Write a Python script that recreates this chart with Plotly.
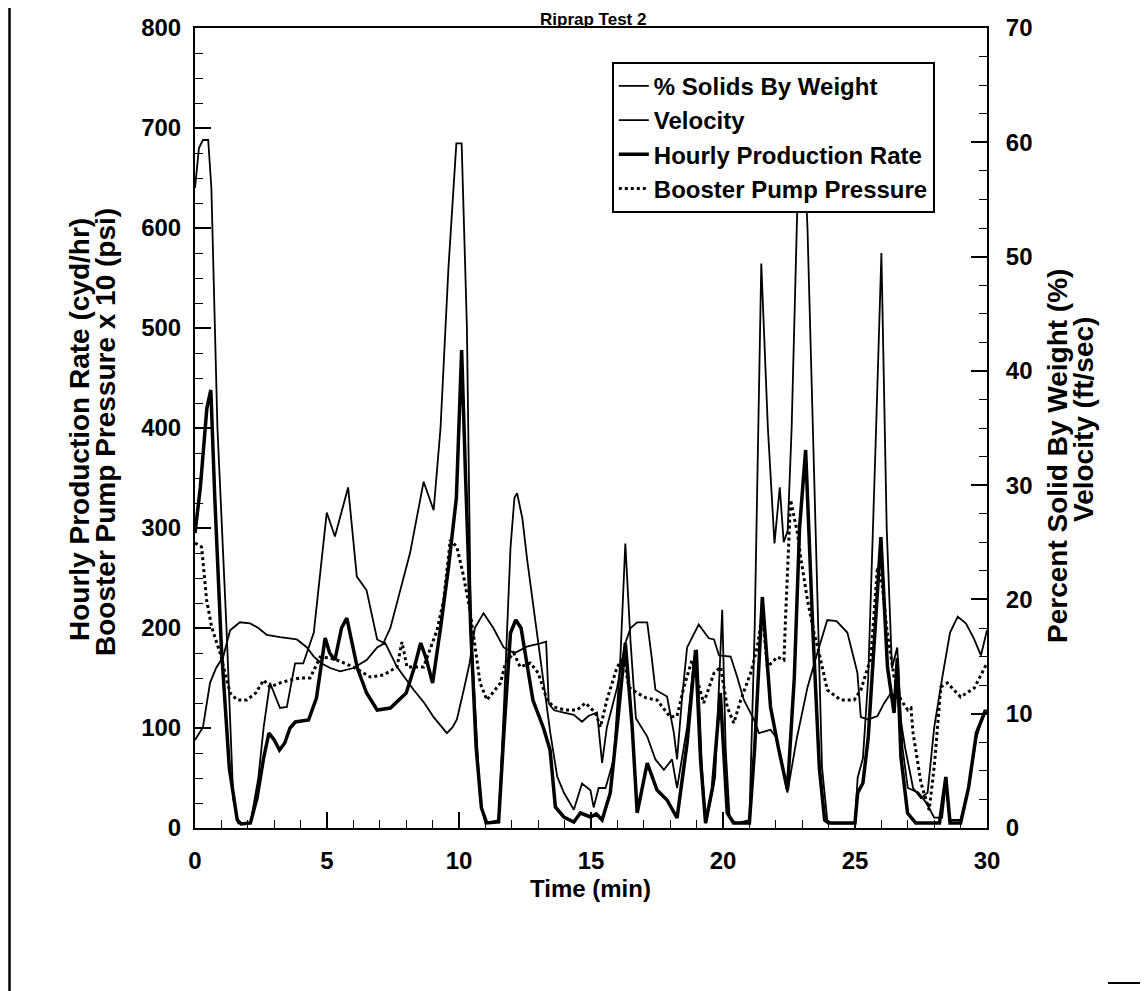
import plotly.graph_objects as go

# ---------------- data ----------------
t_solids = [0.0, 0.15, 0.3, 0.5, 0.62, 0.72, 0.85, 1.2, 1.45, 1.64, 2.1, 2.4, 2.6, 2.84, 3.0, 3.22, 3.48,
            3.79, 4.1, 4.5, 4.99, 5.3, 5.8, 6.13, 6.5, 6.9, 7.14, 7.4, 7.65, 8.15, 8.66, 9.04, 9.3, 9.6,
            9.9, 10.1, 10.3, 10.45, 10.8, 11.0, 11.5, 11.7, 11.95, 12.1, 12.2, 12.4, 12.58, 12.96, 13.21,
            13.46, 13.72, 13.97, 14.35, 14.66, 14.98, 15.1, 15.29, 15.55, 15.86, 16.11, 16.3, 16.5, 16.7,
            17.13, 17.44, 17.76, 18.07, 18.26, 18.64, 18.9, 19.02, 19.2, 19.35, 19.7, 19.97, 20.1, 20.25,
            20.5, 21.0, 21.2, 21.45, 21.7, 21.95, 22.15, 22.3, 22.45, 22.6, 22.95, 23.2, 23.5, 23.75,
            23.95, 24.1, 25.0, 25.1, 25.3, 25.5, 25.8, 26.0, 26.2, 26.4, 26.6, 26.8, 27.0, 27.4, 27.7,
            28.0, 28.3, 28.44, 28.6, 29.0, 29.3, 29.6, 29.9, 30.0]
solids_pct = [56.0, 59.5, 60.2, 60.2, 56.0, 47.3, 35.0, 17.1, 2.5, 0.4, 0.4, 4.4, 8.8, 12.7, 11.8, 10.5, 10.6,
              14.4, 14.4, 17.1, 27.6, 25.5, 29.8, 22.0, 20.8, 16.5, 16.2, 17.5, 19.7, 24.1, 30.3, 27.8, 35.0, 49.0,
              59.9, 59.9, 43.8, 17.5, 2.5, 0.4, 0.7, 10.5, 24.5, 28.9, 29.3, 27.1, 23.5, 17.1, 12.7,
              8.3, 4.5, 3.1, 1.6, 3.9, 3.3, 1.8, 3.5, 3.5, 6.0, 14.7, 24.9, 16.2, 9.6,
              8.0, 6.0, 5.1, 6.0, 3.5, 8.8, 14.7, 15.6, 5.3, 0.4, 4.4, 19.1, 7.0, 0.9,
              0.4, 0.7, 17.5, 49.4, 35.0, 24.9, 29.8, 25.0, 26.0, 35.0, 66.5, 52.5, 26.3, 5.3,
              0.7, 0.4, 0.4, 4.4, 6.1, 13.1, 35.0, 50.3, 26.3, 14.0, 15.8, 7.0, 3.5, 3.1, 2.2,
              0.9, 0.9, 3.9, 0.7, 0.7, 3.5, 7.9, 10.3, 10.3]

t_velocity = [0.0, 0.3, 0.57, 0.8, 1.07, 1.33, 1.7, 2.09, 2.4, 2.72, 3.22, 3.86, 4.24, 4.5, 4.8, 5.12, 5.5,
              6.0, 6.5, 6.9, 7.2, 7.65, 8.28, 8.7, 9.04, 9.54, 9.75, 9.92, 10.2, 10.4, 10.6, 10.93, 11.3,
              11.69, 12.1, 12.6, 13.0, 13.3, 13.4, 13.6, 13.97, 14.35, 14.66, 14.9, 15.23, 15.42, 15.6,
              15.99, 16.3, 16.5, 16.75, 17.13, 17.3, 17.44, 17.88, 18.14, 18.26, 18.45, 18.64, 19.08,
              19.46, 19.66, 19.85, 20.29, 20.54, 20.79, 21.17, 21.36, 21.8, 21.99, 22.2, 22.44, 22.8,
              23.2, 23.57, 23.95, 24.3, 24.71, 25.09, 25.22, 25.5, 25.85, 26.1, 26.36, 26.6, 26.9, 27.2,
              27.5, 27.75, 28.0, 28.3, 28.6, 28.89, 29.2, 29.5, 29.77, 30.0]
velocity_fps = [7.7, 8.8, 12.7, 14.0, 15.0, 17.3, 18.0, 17.9, 17.5, 16.9, 16.7, 16.5, 15.8, 15.0, 14.4, 14.0, 13.7,
                14.0, 14.7, 15.8, 16.2, 14.1, 12.1, 10.9, 9.7, 8.3, 8.8, 9.5, 12.3, 14.4, 17.5, 18.8, 17.5,
                15.8, 15.3, 15.9, 16.1, 16.3, 10.9, 10.3, 10.1, 9.9, 9.3, 9.8, 10.1, 5.7, 8.8,
                12.3, 16.2, 17.5, 18.0, 18.0, 14.9, 12.1, 11.5, 8.3, 6.0, 11.4, 15.8, 17.8,
                16.6, 16.5, 15.1, 15.0, 13.2, 11.2, 9.5, 8.3, 8.6, 8.0, 6.1, 3.1, 7.9,
                12.3, 15.3, 18.2, 18.1, 17.1, 13.6, 9.7, 9.5, 9.8, 10.9, 11.8, 11.4, 7.0, 3.5,
                2.6, 3.1, 8.8, 13.1, 17.1, 18.5, 17.9, 16.6, 15.1, 17.3]

t_rate = [0.0, 0.2, 0.45, 0.6, 0.75, 1.0, 1.3, 1.6, 1.75, 2.1, 2.35, 2.6, 2.8, 3.0, 3.2, 3.4, 3.6, 3.8, 4.3,
          4.6, 4.93, 5.1, 5.3, 5.55, 5.75, 5.95, 6.15, 6.5, 6.9, 7.4, 7.7, 8.0, 8.3, 8.55, 8.75, 9.0, 9.3,
          9.6, 9.9, 10.1, 10.25, 10.45, 10.65, 10.85, 11.05, 11.5, 11.7, 11.95, 12.15, 12.35, 12.6, 12.8,
          13.2, 13.45, 13.65, 13.97, 14.35, 14.6, 14.98, 15.2, 15.42, 15.73, 15.99, 16.3, 16.56, 16.75,
          17.13, 17.5, 17.88, 18.26, 18.64, 18.96, 19.15, 19.34, 19.6, 19.9, 20.16, 20.4, 21.0, 21.2,
          21.49, 21.8, 22.1, 22.44, 22.7, 22.9, 23.13, 23.4, 23.65, 23.85, 24.0, 25.0, 25.1, 25.3, 25.5,
          25.75, 25.98, 26.23, 26.48, 26.6, 26.74, 26.99, 27.3, 28.2, 28.44, 28.6, 29.0, 29.3, 29.6,
          29.9, 30.0]
rate_cydhr = [295, 340, 420, 438, 330, 180, 60, 8, 4, 5, 30, 70, 95, 88, 78, 85, 100, 106, 108,
              130, 190, 175, 168, 200, 210, 185, 160, 135, 118, 120, 128, 135, 160, 185, 170, 145, 200,
              260, 330, 478, 350, 195, 80, 20, 5, 6, 95, 195, 208, 200, 160, 128,
              100, 78, 21, 11, 6, 15, 11, 14, 8, 35, 101, 185, 101, 15,
              65, 38, 28, 10, 85, 178, 68, 5, 40, 135, 15, 5, 5, 80,
              231, 121, 80, 38, 150, 300, 378, 200, 60, 8, 5, 5, 35, 45, 90,
              200, 291, 161, 115, 170, 71, 15, 5, 5, 51, 5, 5, 40, 95,
              115, 115]

t_pressure = [0.0, 0.25, 0.44, 0.63, 0.95, 1.33, 1.6, 1.96, 2.3, 2.6, 2.84, 3.22, 3.6, 4.0, 4.36, 4.74, 5.1,
              5.37, 6.0, 6.64, 7.14, 7.65, 7.84, 8.03, 8.66, 9.17, 9.42, 9.67, 9.92, 10.18, 10.43, 10.8,
              11.06, 11.57, 11.76, 12.07, 12.32, 12.7, 13.0, 13.34, 13.59, 14.0, 14.47, 14.79, 15.17,
              15.36, 15.6, 15.99, 16.24, 16.43, 16.75, 17.1, 17.5, 18.0, 18.26, 18.52, 18.83, 19.0,
              19.27, 19.66, 19.91, 20.16, 20.41, 20.67, 21.05, 21.3, 21.49, 21.68, 22.06, 22.31, 22.37,
              22.56, 22.82, 22.94, 23.2, 23.45, 23.64, 23.95, 24.46, 24.97, 25.22, 25.6, 25.85, 26.04,
              26.2, 26.48, 26.74, 27.0, 27.12, 27.2, 27.5, 27.81, 28.0, 28.25, 28.5, 29.0, 29.52, 30.0]
pressure_x10psi = [285, 281, 228, 201, 175, 135, 128, 128, 135, 148, 141, 145, 148, 150, 150, 171, 170,
                   168, 161, 151, 153, 161, 186, 161, 161, 198, 228, 288, 281, 251, 215, 145,
                   128, 145, 165, 175, 161, 165, 155, 128, 121, 118, 118, 125, 115,
                   101, 128, 161, 171, 141, 135, 130, 128, 111, 112, 141, 168, 150,
                   125, 155, 161, 121, 105, 128, 155, 181, 215, 161, 171, 168, 211,
                   328, 295, 271, 228, 195, 175, 138, 128, 128, 138, 170, 261, 241,
                   200, 151, 128, 118, 120, 95, 45, 18, 61, 141, 145, 131, 140, 165]

series_names = ["% Solids By Weight", "Velocity", "Hourly Production Rate", "Booster Pump Pressure"]
left_title = ["Hourly Production Rate (cyd/hr)", "Booster Pump Pressure x 10 (psi)"]
right_title = ["Percent Solid By Weight (%)", "Velocity (ft/sec)"]
x_title = "Time (min)"
chart_title = "Riprap Test 2"

# ---------------- figure ----------------
FONT = "Liberation Sans, Arial, sans-serif"
fig = go.Figure()
fig.add_trace(go.Scatter(x=t_solids, y=solids_pct, name=series_names[0], yaxis="y2",
                         mode="lines", line=dict(color="black", width=1.8)))
fig.add_trace(go.Scatter(x=t_velocity, y=velocity_fps, name=series_names[1], yaxis="y2",
                         mode="lines", line=dict(color="black", width=1.8)))
fig.add_trace(go.Scatter(x=t_rate, y=rate_cydhr, name=series_names[2], yaxis="y",
                         mode="lines", line=dict(color="black", width=3.5)))
fig.add_trace(go.Scatter(x=t_pressure, y=pressure_x10psi, name=series_names[3], yaxis="y",
                         mode="lines", line=dict(color="black", width=3, dash="dot")))

# page has an 8px body margin; figure sized to fit the 1148x991 window
OFF = 8
W, H = 1140, 983
ml, mr, mt, mb = 187, 161, 20, 163
pw, ph = W - ml - mr, H - mt - mb


def px(xs):
    """screen x pixel -> paper x"""
    return (xs - OFF - ml) / pw


def py(ys):
    """screen y pixel -> paper y"""
    return (H - mb - (ys - OFF)) / ph


tickfont = dict(family=FONT, size=24, color="black", weight="bold")
tick_common = dict(showgrid=False, zeroline=False, showline=True, linecolor="black", linewidth=2,
                   ticks="inside", ticklen=16, tickwidth=1.6, tickcolor="black", tickfont=tickfont,
                   automargin=False)
fig.update_layout(
    template="none",
    width=W, height=H,
    margin=dict(l=ml, r=mr, t=mt, b=mb, autoexpand=False),
    paper_bgcolor="white", plot_bgcolor="white",
    showlegend=True,
    legend=dict(x=px(612), y=py(62), xanchor="left", yanchor="top",
                bgcolor="white", bordercolor="black", borderwidth=1.8,
                font=dict(family=FONT, size=24, color="black", weight="bold"),
                tracegroupgap=0, itemwidth=30),
    xaxis=dict(range=[0, 30], dtick=5, tick0=0, mirror=True,
               minor=dict(dtick=1, ticks="inside", ticklen=8, tickwidth=1.3, tickcolor="black"),
               ticklabelstandoff=10, **tick_common),
    yaxis=dict(range=[0, 800], dtick=100, tick0=0,
               minor=dict(dtick=25, ticks="inside", ticklen=8, tickwidth=1.3, tickcolor="black"),
               ticklabelstandoff=7, **tick_common),
    yaxis2=dict(range=[0, 70], dtick=10, tick0=0, overlaying="y", side="right",
                minor=dict(dtick=2.5, ticks="inside", ticklen=8, tickwidth=1.3, tickcolor="black"),
                ticklabelstandoff=12, **tick_common),
)

rotfont = dict(family=FONT, size=28, color="black", weight="bold")
anns = [
    dict(text=chart_title, x=px(593), y=py(8), xref="paper", yref="paper", showarrow=False,
         xanchor="center", yanchor="top", font=dict(family=FONT, size=17, color="black", weight="bold")),
    dict(text=x_title, x=px(590), y=py(888), xref="paper", yref="paper", showarrow=False,
         xanchor="center", yanchor="middle", font=dict(family=FONT, size=24, color="black", weight="bold")),
    dict(text=left_title[0], x=px(80), y=py(430), xref="paper", yref="paper", showarrow=False,
         textangle=-90, xanchor="center", yanchor="middle", font=rotfont),
    dict(text=left_title[1], x=px(105), y=py(432), xref="paper", yref="paper", showarrow=False,
         textangle=-90, xanchor="center", yanchor="middle", font=rotfont),
    dict(text=right_title[0], x=px(1058), y=py(456), xref="paper", yref="paper", showarrow=False,
         textangle=-90, xanchor="center", yanchor="middle", font=rotfont),
    dict(text=right_title[1], x=px(1083), y=py(420), xref="paper", yref="paper", showarrow=False,
         textangle=-90, xanchor="center", yanchor="middle", font=rotfont),
]
fig.update_layout(annotations=anns)

# scan border artifacts
fig.add_shape(type="line", xref="paper", yref="paper", x0=px(9.5), x1=px(9.5), y0=py(8), y1=py(991),
              line=dict(color="black", width=2.5))
fig.add_shape(type="line", xref="paper", yref="paper", x0=px(1108), x1=px(1147), y0=py(983), y1=py(983),
              line=dict(color="black", width=2))

fig.write_html("out.html")
